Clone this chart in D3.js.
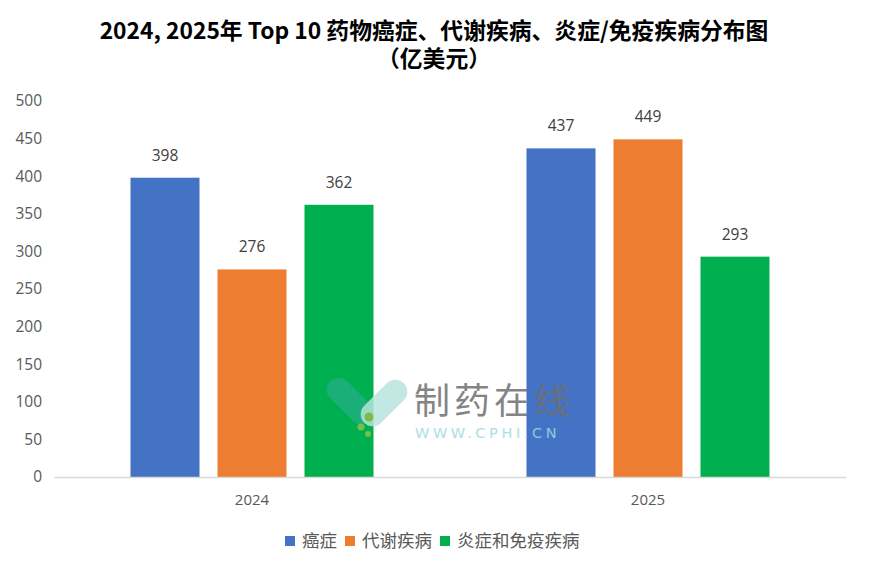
<!DOCTYPE html>
<html><head><meta charset="utf-8">
<script src="https://cdn.jsdelivr.net/npm/d3@7"></script>
<style>body{margin:0;background:#fff}</style>
</head><body>
<svg id="c" width="869" height="571"></svg>
<script>
const years = ["2024", "2025"];
const seriesNames = ["癌症", "代谢疾病", "炎症和免疫疾病"];
const cancer = [398, 437];
const metabolic = [276, 449];
const immune = [362, 293];
const yTicks = [0, 50, 100, 150, 200, 250, 300, 350, 400, 450, 500];
const colors = ["#4472C4", "#ED7D31", "#00B050"];

const svg = d3.select("#c");
const cjk = "'Noto Sans CJK SC', 'Liberation Sans', sans-serif";
const num = "'Open Sans', 'Liberation Sans', sans-serif";
const plotLeft = 54, plotRight = 846, plotTop = 101, plotBottom = 477;

const x0 = d3.scaleBand().domain(years).range([plotLeft, plotRight]).paddingInner(0).paddingOuter(0);
const x1 = d3.scaleBand().domain(seriesNames).range([0, 243]).paddingInner(18/87).paddingOuter(0);
const y = d3.scaleLinear().domain([0, 500]).range([plotBottom, plotTop]);

// title
svg.append("text").attr("x", 434).attr("y", 39).attr("text-anchor", "middle")
  .attr("font-family", cjk).attr("font-weight", "bold").attr("font-size", 22.8).attr("fill", "#000")
  .text("2024, 2025年 Top 10 药物癌症、代谢疾病、炎症/免疫疾病分布图");
svg.append("text").attr("x", 434).attr("y", 67).attr("text-anchor", "middle")
  .attr("font-family", cjk).attr("font-weight", "bold").attr("font-size", 22.8).attr("fill", "#000")
  .text("（亿美元）");

// y axis labels
const yAxis = d3.axisLeft(y).tickValues(yTicks).tickSize(0).tickPadding(12);
const gy = svg.append("g").attr("transform", `translate(${plotLeft},0)`).call(yAxis);
gy.select(".domain").remove();
gy.selectAll("text").attr("font-family", num)
  .attr("font-size", 15.5).attr("fill", "#595959");

// bars
const data = years.map((yr, i) => ({ yr, vals: [cancer[i], metabolic[i], immune[i]] }));
const groups = svg.append("g").selectAll("g").data(data).join("g")
  .attr("transform", d => `translate(${x0(d.yr) + x0.bandwidth()/2 - 121.5},0)`);
groups.selectAll("rect").data(d => d.vals.map((v, j) => ({ v, s: seriesNames[j], j })))
  .join("rect")
  .attr("x", d => x1(d.s)).attr("width", x1.bandwidth())
  .attr("y", d => y(d.v)).attr("height", d => y(0) - y(d.v))
  .attr("fill", d => colors[d.j]);
groups.selectAll("text.v").data(d => d.vals.map((v, j) => ({ v, s: seriesNames[j], j })))
  .join("text").attr("class", "v")
  .attr("x", d => x1(d.s) + x1.bandwidth()/2).attr("y", d => y(d.v) - 17)
  .attr("text-anchor", "middle").attr("font-family", num)
  .attr("font-size", 15.5).attr("fill", "#404040").text(d => d.v);

// x axis
const xAxis = d3.axisBottom(x0).tickSize(0).tickPadding(17);
const gx = svg.append("g").attr("transform", `translate(0,${plotBottom})`).call(xAxis);
gx.select(".domain").attr("stroke", "#d9d9d9").attr("stroke-width", 1.3);
gx.selectAll("text").attr("font-family", num)
  .attr("font-size", 15).attr("fill", "#595959");

// watermark (drawn over the bars)
const wm = svg.append("g").attr("opacity", 0.85);
wm.append("rect").attr("x", -12).attr("y", -28).attr("width", 24).attr("height", 56).attr("rx", 12)
  .attr("transform", "translate(350,401) rotate(-45)").attr("fill", "#1fae7f");
wm.append("rect").attr("x", -12).attr("y", -28).attr("width", 24).attr("height", 56).attr("rx", 12)
  .attr("transform", "translate(384,403) rotate(45)").attr("fill", "#b9e3de");
wm.append("circle").attr("cx", 369).attr("cy", 417).attr("r", 4.5).attr("fill", "#8fbf4a");
wm.append("circle").attr("cx", 361).attr("cy", 427).attr("r", 3.5).attr("fill", "#8fbf4a");
wm.append("circle").attr("cx", 368).attr("cy", 434).attr("r", 3).attr("fill", "#8fbf4a");
wm.append("text").attr("x", 414).attr("y", 414).attr("font-family", cjk).attr("font-size", 36)
  .attr("fill", "#6f6f6f").attr("letter-spacing", 4).text("制药在线");
wm.append("text").attr("x", 415).attr("y", 438).attr("font-family", "'DejaVu Sans', sans-serif").attr("font-size", 14.5)
  .attr("fill", "#9adbe0").attr("letter-spacing", 3.6).text("WWW.CPHI.CN");

// legend
const legendX = [285, 345, 440];
const lg = svg.append("g").selectAll("g").data(seriesNames).join("g")
  .attr("transform", (d, i) => `translate(${legendX[i]},536)`);
lg.append("rect").attr("width", 10).attr("height", 10).attr("fill", (d, i) => colors[i]);
lg.append("text").attr("x", 17).attr("y", 11).attr("font-family", cjk).attr("font-size", 17.5)
  .attr("fill", "#595959").text(d => d);
</script>
</body></html>
